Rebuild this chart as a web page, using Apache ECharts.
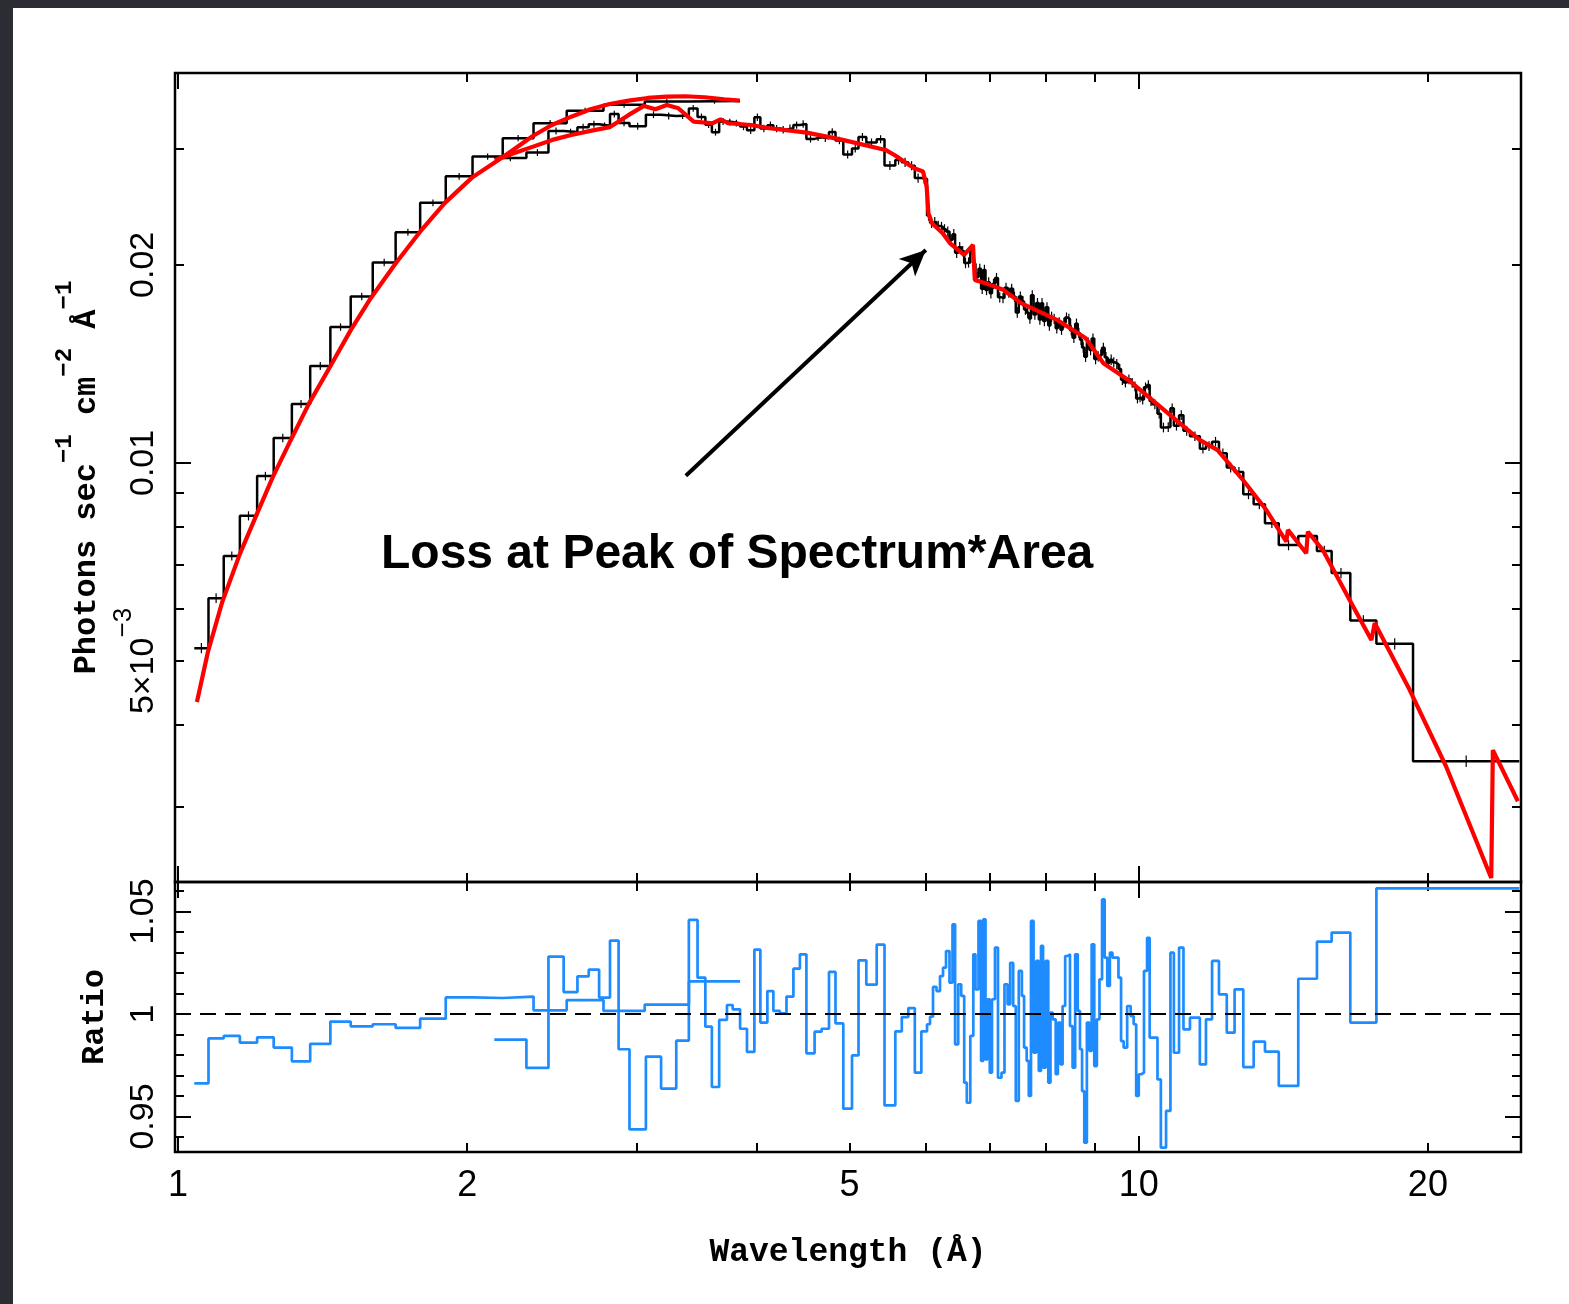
<!DOCTYPE html>
<html><head><meta charset="utf-8">
<script src="https://cdn.jsdelivr.net/npm/echarts@6/dist/echarts.min.js"></script>
<style>
html,body{margin:0;padding:0;background:#2b2c34;width:1569px;height:1304px;overflow:hidden;}
#chart{position:absolute;left:13px;top:8px;width:1556px;height:1296px;background:#fff;}
</style></head><body><div id="chart"></div>
<script>
// ---------------- data ----------------
const X_RANGE = [0.993, 25];
const Y_RANGE = [0.002307, 0.03914];
const R_RANGE = [0.93268, 1.06439];

const xTickMajor = [1, 10];
const xTickMinor = [2, 3, 4, 5, 6, 7, 8, 9, 20];
const xTickLabels = [1, 2, 5, 10, 20];
const yTickMajor = [0.01];
const yTickMinor = [0.003, 0.004, 0.005, 0.006, 0.007, 0.008, 0.009, 0.02, 0.03];
const yTickLabels = [0.005, 0.01, 0.02];
const rTickMajor = [0.95, 1.0, 1.05];
const rTickMinor = [0.94, 0.96, 0.97, 0.98, 0.99, 1.01, 1.02, 1.03, 1.04, 1.06];
const rTickLabels = [0.95, 1.0, 1.05];

// dataset A (coarse binning, 1.04 - 3.85 A)
const dataAEdges = [1.040, 1.076, 1.116, 1.160, 1.209, 1.258, 1.314, 1.373, 1.441, 1.513, 1.595, 1.685, 1.787, 1.900, 2.026, 2.178, 2.345, 2.539, 2.773, 3.061, 3.403, 3.847];
const dataAFlux = [0.00523, 0.00623, 0.00722, 0.00831, 0.00955, 0.01091, 0.01229, 0.01404, 0.01609, 0.01791, 0.02017, 0.02242, 0.02485, 0.02726, 0.02922, 0.03116, 0.03284, 0.03431, 0.03501, 0.03541, 0.03550];
const dataAErr = [0.018, 0.017, 0.016, 0.016, 0.015, 0.015, 0.014, 0.014, 0.013, 0.013, 0.013, 0.012, 0.012, 0.012, 0.011, 0.011, 0.011, 0.010, 0.010, 0.010, 0.010];
const ratioA = [0.9662, 0.9881, 0.9893, 0.9860, 0.9886, 0.9836, 0.9769, 0.9854, 0.9963, 0.9940, 0.9950, 0.9932, 0.9977, 1.0081, 1.0078, 1.0085, 1.0018, 1.0068, 1.0015, 1.0046, 1.0159];
const modelAWave = [1.0466, 1.0745, 1.1113, 1.1601, 1.2084, 1.2555, 1.3107, 1.3684, 1.4394, 1.5136, 1.5880, 1.6862, 1.7859, 1.8962, 2.0274, 2.1793, 2.3408, 2.4502, 2.5672, 2.6875, 2.8139, 2.9457, 3.0836, 3.2273, 3.3775, 3.5347, 3.7040, 3.8442];
const modelAFlux = [0.004331, 0.005160, 0.006129, 0.007273, 0.008365, 0.009522, 0.010837, 0.012294, 0.013990, 0.015930, 0.017815, 0.020135, 0.022441, 0.024843, 0.027208, 0.029174, 0.031400, 0.032631, 0.033593, 0.034476, 0.035121, 0.035530, 0.035866, 0.036030, 0.036080, 0.035955, 0.035704, 0.035530];

// dataset B (fine binning, 2.13 - 24.9 A)
const dataBEdges = [2.1345, 2.3052, 2.4303, 2.5204, 2.6051, 2.6766, 2.7441, 2.8166, 2.8752, 2.9513,
 3.0696, 3.1834, 3.3013, 3.4025, 3.4742, 3.5398, 3.5954, 3.6589, 3.7279, 3.7792,
 3.8469, 3.9110, 3.9811, 4.0387, 4.1071, 4.1665, 4.2320, 4.2995, 4.3712, 4.4399,
 4.5097, 4.5991, 4.6770, 4.7607, 4.8355, 4.9267, 5.0305, 5.1096, 5.2060, 5.3373,
 5.4381, 5.5807, 5.6683, 5.7574, 5.8479, 5.9398, 6.0215, 6.0649, 6.1086, 6.1600,
 6.2118, 6.2567, 6.3018, 6.3548, 6.4006, 6.4406, 6.4886, 6.5353, 6.5825, 6.6237,
 6.6794, 6.7276, 6.7631, 6.8119, 6.8545, 6.8907, 6.9272, 6.9620, 6.9988, 7.0359,
 7.0866, 7.1378, 7.1979, 7.2497, 7.3038, 7.3494, 7.4024, 7.4487, 7.5024, 7.5584,
 7.5984, 7.6458, 7.6845, 7.7251, 7.7733, 7.8220, 7.8708, 7.9124, 7.9524, 8.0021,
 8.0521, 8.0947, 8.1375, 8.1961, 8.2395, 8.2909, 8.3328, 8.3848, 8.4372, 8.4819,
 8.5348, 8.5881, 8.6418, 8.6875, 8.7314, 8.7776, 8.8324, 8.8876, 8.9346, 8.9904,
 9.0466, 9.1031, 9.1600, 9.2173, 9.2749, 9.3329, 9.3911, 9.4498, 9.5271, 9.5866,
 9.6465, 9.7279, 9.8099, 9.8807, 9.9403, 10.002, 10.065, 10.128, 10.203, 10.267,
 10.331, 10.461, 10.546, 10.678, 10.791, 10.880, 11.016, 11.133, 11.308, 11.579,
 11.750, 11.923, 12.122, 12.351, 12.584, 12.849, 13.173, 13.535, 13.990, 14.659,
 15.330, 15.880, 16.606, 17.678, 19.30, 24.90];
const dataBFlux = [0.02908, 0.02963, 0.03195, 0.03183, 0.03237, 0.03272, 0.03253, 0.03390, 0.03287, 0.03249,
 0.03383, 0.03367, 0.03372, 0.03458, 0.03356, 0.03267, 0.03182, 0.03303, 0.03296, 0.03284,
 0.03246, 0.03203, 0.03352, 0.03223, 0.03261, 0.03222, 0.03209, 0.03227, 0.03262, 0.03275,
 0.03108, 0.03126, 0.03114, 0.03185, 0.03091, 0.02942, 0.03005, 0.03129, 0.03069, 0.03104,
 0.02832, 0.02886, 0.02863, 0.02830, 0.02710, 0.02702, 0.02378, 0.02317, 0.02323, 0.02292,
 0.02284, 0.02265, 0.02247, 0.02184, 0.02227, 0.02086, 0.02128, 0.02098, 0.02013, 0.02017,
 0.02112, 0.02007, 0.01916, 0.01973, 0.01839, 0.01965, 0.01832, 0.01882, 0.01811, 0.01870,
 0.01910, 0.01785, 0.01781, 0.01846, 0.01815, 0.01839, 0.01788, 0.01693, 0.01790, 0.01760,
 0.01710, 0.01692, 0.01657, 0.01798, 0.01681, 0.01750, 0.01652, 0.01749, 0.01643, 0.01724,
 0.01617, 0.01668, 0.01656, 0.01602, 0.01635, 0.01594, 0.01632, 0.01663, 0.01655, 0.01591,
 0.01549, 0.01628, 0.01576, 0.01539, 0.01498, 0.01450, 0.01523, 0.01484, 0.01545, 0.01438,
 0.01452, 0.01461, 0.01496, 0.01448, 0.01420, 0.01435, 0.01422, 0.01413, 0.01389, 0.01338,
 0.01325, 0.01340, 0.01323, 0.01307, 0.01253, 0.01258, 0.01248, 0.01303, 0.01313, 0.01242,
 0.01228, 0.01188, 0.01132, 0.01134, 0.01211, 0.01139, 0.01182, 0.01119, 0.01098, 0.01051,
 0.01061, 0.01077, 0.01034, 0.00984, 0.00969, 0.00896, 0.00865, 0.00810, 0.00750, 0.00774,
 0.00735, 0.00680, 0.00576, 0.00531, 0.00352];
const dataBErr = [0.012, 0.012, 0.012, 0.012, 0.012, 0.012, 0.012, 0.012, 0.012, 0.012,
 0.012, 0.012, 0.012, 0.012, 0.012, 0.012, 0.012, 0.012, 0.012, 0.012,
 0.013, 0.013, 0.013, 0.013, 0.013, 0.013, 0.013, 0.013, 0.013, 0.013,
 0.013, 0.013, 0.013, 0.013, 0.013, 0.014, 0.014, 0.014, 0.014, 0.014,
 0.016, 0.016, 0.016, 0.016, 0.016, 0.016, 0.018, 0.018, 0.018, 0.018,
 0.018, 0.018, 0.018, 0.018, 0.018, 0.018, 0.018, 0.018, 0.018, 0.018,
 0.018, 0.018, 0.018, 0.018, 0.018, 0.018, 0.018, 0.018, 0.018, 0.018,
 0.018, 0.018, 0.018, 0.018, 0.018, 0.018, 0.018, 0.018, 0.018, 0.018,
 0.018, 0.018, 0.018, 0.018, 0.018, 0.018, 0.018, 0.018, 0.018, 0.018,
 0.018, 0.018, 0.018, 0.018, 0.018, 0.018, 0.018, 0.018, 0.018, 0.018,
 0.018, 0.018, 0.018, 0.018, 0.018, 0.018, 0.018, 0.018, 0.018, 0.018,
 0.018, 0.018, 0.018, 0.018, 0.018, 0.018, 0.018, 0.018, 0.018, 0.018,
 0.017, 0.017, 0.017, 0.017, 0.017, 0.017, 0.017, 0.017, 0.017, 0.017,
 0.017, 0.017, 0.017, 0.017, 0.017, 0.017, 0.017, 0.017, 0.017, 0.017,
 0.017, 0.017, 0.017, 0.017, 0.017, 0.017, 0.017, 0.017, 0.018, 0.018,
 0.018, 0.018, 0.019, 0.020, 0.020];
const ratioB = [0.9875, 0.9737, 1.0280, 1.0107, 1.0184, 1.0216, 1.0080, 1.0358, 0.9828, 0.9437,
 0.9792, 0.9636, 0.9870, 1.0459, 1.0177, 0.9938, 0.9644, 0.9971, 1.0044, 1.0023,
 0.9928, 0.9815, 1.0314, 0.9958, 1.0112, 1.0015, 1.0003, 1.0085, 1.0221, 1.0291,
 0.9808, 0.9914, 0.9928, 1.0205, 0.9954, 0.9538, 0.9798, 1.0262, 1.0143, 1.0338,
 0.9554, 0.9915, 0.9985, 1.0029, 0.9714, 0.9915, 0.9950, 0.9987, 1.0132, 1.0112,
 1.0185, 1.0226, 1.0307, 1.0153, 1.0437, 0.9852, 1.0145, 1.0088, 0.9665, 0.9567,
 0.9893, 1.0291, 1.0120, 1.0454, 0.9771, 1.0462, 0.9779, 1.0072, 0.9714, 1.0072,
 1.0324, 0.9689, 0.9714, 1.0145, 1.0047, 1.0250, 1.0039, 0.9576, 1.0210, 1.0088,
 0.9836, 0.9771, 0.9600, 1.0454, 0.9811, 1.0259, 0.9722, 1.0332, 0.9738, 1.0259,
 0.9665, 1.0007, 0.9974, 0.9706, 0.9958, 0.9754, 1.0039, 1.0283, 1.0291, 0.9941,
 0.9738, 1.0291, 1.0015, 0.9828, 0.9624, 0.9372, 0.9958, 0.9820, 1.0340, 0.9746,
 0.9974, 1.0169, 1.0559, 1.0275, 1.0137, 1.0299, 1.0275, 1.0275, 1.0177, 0.9868,
 0.9836, 1.0039, 0.9990, 0.9950, 0.9600, 0.9706, 0.9714, 1.0210, 1.0372, 0.9885,
 0.9885, 0.9681, 0.9348, 0.9527, 1.0299, 0.9811, 1.0324, 0.9925, 0.9982, 0.9754,
 0.9974, 1.0259, 1.0096, 0.9909, 1.0120, 0.9741, 0.9865, 0.9816, 0.9649, 1.0172,
 1.0353, 1.0397, 0.9958, 1.0613, 1.0613];
const modelBWave = [2.138, 2.2365, 2.3425, 2.4526, 2.5672, 2.6875, 2.8139, 2.9457, 3.0556, 3.1402,
 3.2280, 3.3181, 3.4418, 3.6031, 3.6703, 3.7377, 3.9497, 4.1268, 4.5141, 4.9196,
 5.4512, 5.5687, 5.8381, 5.9640, 6.0157, 6.0417, 6.0925, 6.2521, 6.3593, 6.5810,
 6.7228, 6.7518, 6.9268, 7.2276, 7.5457, 8.2197, 8.8030, 9.1887, 9.7559, 10.625,
 11.574, 12.082, 12.840, 13.580, 14.245, 14.300, 14.942, 15.000, 15.548, 16.580,
 17.467, 17.606, 19.143, 20.904, 23.280, 23.370, 24.814];
const modelBFlux = [0.02887, 0.02956, 0.03025, 0.03097, 0.03151, 0.03196, 0.03238, 0.03380, 0.03488, 0.03448,
 0.03500, 0.03460, 0.03301, 0.03283, 0.03329, 0.03283, 0.03263, 0.03226, 0.03177, 0.03097,
 0.02990, 0.02938, 0.02805, 0.02772, 0.02630, 0.02396, 0.02314, 0.02234, 0.02158, 0.02071,
 0.02145, 0.01897, 0.01876, 0.01833, 0.01749, 0.01650, 0.01548, 0.01417, 0.01337, 0.01204,
 0.01084, 0.01046, 0.00942, 0.00848, 0.00759, 0.00791, 0.00729, 0.00786, 0.00737, 0.00619,
 0.00538, 0.00571, 0.00452, 0.00345, 0.00234, 0.00366, 0.00306];

// annotation (arrow from tail to tip, in data coordinates)
const arrowTail = [3.378, 0.00956];
const arrowTip = [6.004, 0.02107];
const annotationText = 'Loss at Peak of Spectrum*Area';

// ---------------- helpers ----------------
function steps(edges, vals) {
  const out = [];
  for (let i = 0; i < vals.length; i++) { out.push([edges[i], vals[i]]); out.push([edges[i + 1], vals[i]]); }
  return out;
}
function errBars(edges, vals, err) {
  return vals.map((v, i) => [Math.sqrt(edges[i] * edges[i + 1]), v * (1 - err[i]), v * (1 + err[i])]);
}
function zip(a, b) { return a.map((v, i) => [v, b[i]]); }

const BLACK = '#000000', RED = '#ff0000', BLUE = '#1e8cff';
const TICK = {color: BLACK, width: 2};
const MAJ = 16, MIN = 9;
const numFont = 'Liberation Sans';
const nameFont = 'Liberation Mono';

function xAx(gi, pos, ticks, len, extra) {
  return Object.assign({
    gridIndex: gi, type: 'log', logBase: 10, min: X_RANGE[0], max: X_RANGE[1], position: pos,
    axisLine: {show: false, onZero: false}, splitLine: {show: false}, minorTick: {show: false},
    axisTick: {show: true, inside: true, length: len, customValues: ticks, lineStyle: TICK},
    axisLabel: {show: false}
  }, extra || {});
}
function yAx(gi, type, range, pos, ticks, len, extra) {
  const a = {
    gridIndex: gi, type: type, min: range[0], max: range[1], position: pos,
    axisLine: {show: false, onZero: false}, splitLine: {show: false}, minorTick: {show: false},
    axisTick: {show: true, inside: true, length: len, customValues: ticks, lineStyle: TICK},
    axisLabel: {show: false}
  };
  if (type === 'log') a.logBase = 10;
  return Object.assign(a, extra || {});
}

const supRich = {
  m: {fontFamily: numFont, fontSize: 34, color: BLACK, lineHeight: 50, verticalAlign: 'bottom'},
  s: {fontFamily: numFont, fontSize: 26, color: BLACK, lineHeight: 50, verticalAlign: 'top'}
};
const nameRich = {
  m: {fontFamily: nameFont, fontWeight: 'bold', fontSize: 32, color: BLACK, lineHeight: 50, verticalAlign: 'bottom'},
  s: {fontFamily: nameFont, fontWeight: 'bold', fontSize: 24, color: BLACK, lineHeight: 50, verticalAlign: 'top'}
};

const xAxes = [
  xAx(0, 'bottom', xTickMajor, MAJ), xAx(0, 'bottom', xTickMinor, MIN),
  xAx(0, 'top', xTickMajor, MAJ), xAx(0, 'top', xTickMinor, MIN),
  xAx(1, 'bottom', xTickMajor, MAJ),
  xAx(1, 'bottom', xTickMinor, MIN, {
    axisLabel: {show: true, customValues: xTickLabels, margin: 16, color: BLACK, fontFamily: numFont, fontSize: 36,
      formatter: v => String(Math.round(v))},
    name: 'Wavelength (Å)', nameLocation: 'middle', nameGap: 84,
    nameTextStyle: {fontFamily: nameFont, fontWeight: 'bold', fontSize: 33, color: BLACK}
  }),
  xAx(1, 'top', xTickMajor, MAJ), xAx(1, 'top', xTickMinor, MIN)
];
const yAxes = [
  yAx(0, 'log', Y_RANGE, 'left', yTickMajor, MAJ, {
    axisLabel: {show: true, customValues: yTickLabels, rotate: 90, margin: 14,
      formatter: v => Math.abs(v - 0.005) < 1e-5 ? '{m|5×10}{s|−3}' : '{m|' + v.toFixed(2) + '}',
      rich: supRich},
    name: '{m|Photons sec}{s|−1}{m| cm}{s|−2}{m| Å}{s|−1}', nameLocation: 'middle', nameRotate: 90, nameGap: 58,
    nameTextStyle: {rich: nameRich}
  }),
  yAx(0, 'log', Y_RANGE, 'left', yTickMinor, MIN),
  yAx(0, 'log', Y_RANGE, 'right', yTickMajor, MAJ),
  yAx(0, 'log', Y_RANGE, 'right', yTickMinor, MIN),
  yAx(1, 'value', R_RANGE, 'left', rTickMajor, MAJ, {
    axisLabel: {show: true, customValues: rTickLabels, rotate: 90, margin: 14,
      formatter: v => '{m|' + (Math.abs(v - 1) < 1e-9 ? '1' : v.toFixed(2)) + '}',
      rich: supRich},
    name: '{m|Ratio}', nameLocation: 'middle', nameRotate: 90, nameGap: 64,
    nameTextStyle: {rich: nameRich}
  }),
  yAx(1, 'value', R_RANGE, 'left', rTickMinor, MIN),
  yAx(1, 'value', R_RANGE, 'right', rTickMajor, MAJ),
  yAx(1, 'value', R_RANGE, 'right', rTickMinor, MIN)
];

function errSeries(edges, vals, err) {
  return {
    type: 'custom', xAxisIndex: 0, yAxisIndex: 0, z: 2, silent: true, clip: true,
    data: errBars(edges, vals, err),
    encode: {x: 0, y: [1, 2]},
    renderItem: (params, api) => {
      const p1 = api.coord([api.value(0), api.value(1)]);
      const p2 = api.coord([api.value(0), api.value(2)]);
      return {type: 'line', shape: {x1: p1[0], y1: p1[1], x2: p2[0], y2: p2[1]}, style: {stroke: BLACK, lineWidth: 1.2}};
    }
  };
}
function lineS(xi, yi, data, color, width, z, extra) {
  return Object.assign({type: 'line', xAxisIndex: xi, yAxisIndex: yi, data: data, symbol: 'none', showSymbol: false,
    lineStyle: {color: color, width: width}, z: z, silent: true, animation: false}, extra || {});
}

const chart = echarts.init(document.getElementById('chart'), null, {renderer: 'canvas'});
chart.setOption({
  animation: false,
  backgroundColor: '#ffffff',
  grid: [
    {left: 162, right: 48, top: 65, height: 809, show: true, borderColor: BLACK, borderWidth: 2.5, backgroundColor: 'transparent'},
    {left: 162, right: 48, top: 874, height: 270, show: true, borderColor: BLACK, borderWidth: 2.5, backgroundColor: 'transparent'}
  ],
  xAxis: xAxes,
  yAxis: yAxes,
  series: [
    lineS(0, 0, steps(dataAEdges, dataAFlux), BLACK, 2.5, 2),
    lineS(0, 0, steps(dataBEdges, dataBFlux), BLACK, 2.5, 2),
    errSeries(dataAEdges, dataAFlux, dataAErr),
    errSeries(dataBEdges, dataBFlux, dataBErr),
    lineS(0, 0, zip(modelAWave, modelAFlux), RED, 4.2, 3),
    lineS(0, 0, zip(modelBWave, modelBFlux), RED, 4.2, 3, {
      markLine: {silent: true, symbol: ['none', 'arrow'], symbolSize: [18, 26], label: {show: false},
        lineStyle: {color: BLACK, width: 4, type: 'solid'},
        data: [[{coord: arrowTail}, {coord: arrowTip}]]}
    }),
    lineS(4, 4, steps(dataAEdges, ratioA), BLUE, 2.7, 3),
    lineS(4, 4, steps(dataBEdges, ratioB), BLUE, 2.7, 3, {
      markLine: {silent: true, symbol: 'none', label: {show: false},
        lineStyle: {color: BLACK, width: 2, type: [16, 9]}, data: [{yAxis: 1}]}
    })
  ],
  graphic: [{
    type: 'text', x: 368, y: 547, z: 100,
    style: {text: annotationText, font: 'bold 48px "Liberation Sans"', fill: BLACK, align: 'left', verticalAlign: 'middle'}
  }]
});
</script></body></html>
